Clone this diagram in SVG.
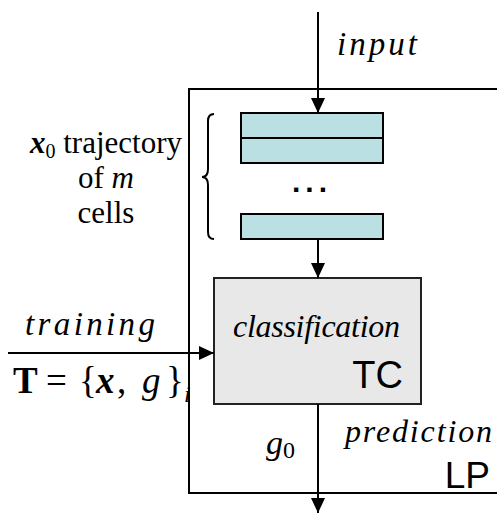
<svg xmlns="http://www.w3.org/2000/svg" width="497" height="513" viewBox="0 0 497 513">
  <style>
    .sans { font-family: "Liberation Sans", Arial, sans-serif; fill: #000; }
    .wire { stroke: #000; stroke-width: 2; fill: none; }
    .cell { fill: #bbe0e3; stroke: #000; stroke-width: 2; }
  </style>
  <defs>
    <marker id="arrow" markerUnits="userSpaceOnUse" markerWidth="16" markerHeight="14" refX="15" refY="7" orient="auto">
      <path d="M0,0 L15,7 L0,14 Z" fill="#000"/>
    </marker>
  </defs>
  <rect width="497" height="513" fill="#fff"/>

  <!-- LP outer block -->
  <g id="lp">
    <rect x="189" y="89" width="320" height="404" fill="none" stroke="#000" stroke-width="2"/>
    <text font-family="Liberation Serif, serif" font-style="italic" x="345" y="442" font-size="32" textLength="147" lengthAdjust="spacing">prediction</text>
    <text class="sans" x="490" y="488" font-size="37" text-anchor="end">LP</text>
  </g>

  <!-- trajectory cells -->
  <g id="cells">
    <rect class="cell" x="241" y="113" width="142" height="50"/>
    <line x1="241" y1="138" x2="383" y2="138" stroke="#000" stroke-width="2"/>
    <text class="sans" x="312" y="192" font-size="30" font-weight="bold" text-anchor="middle" letter-spacing="5">...</text>
    <rect class="cell" x="241" y="214" width="142" height="25"/>
  </g>

  <!-- brace and its label -->
  <g id="trajectory-label" font-family="Liberation Serif, serif" font-size="31" text-anchor="middle">
    <path class="wire" stroke-width="1.5" d="M214,114 Q208,114 208,121 L208,169 Q208,177 202,177 Q208,177 208,185 L208,232 Q208,239 214,239"/>
    <text x="106" y="153"><tspan font-weight="bold" font-style="italic">x</tspan><tspan font-size="20" dy="5">0</tspan><tspan dy="-5"> trajectory</tspan></text>
    <text x="106" y="188">of <tspan font-style="italic">m</tspan></text>
    <text x="106" y="223">cells</text>
  </g>

  <!-- TC classification block -->
  <g id="tc">
    <rect x="214" y="278" width="207" height="126" fill="#e8e8e8" stroke="#222" stroke-width="2"/>
    <text font-family="Liberation Serif, serif" font-style="italic" x="233" y="337" font-size="32" textLength="167" lengthAdjust="spacing">classification</text>
    <text class="sans" x="403" y="388" font-size="38" text-anchor="end">TC</text>
  </g>

  <!-- connectors -->
  <g id="connectors">
    <line class="wire" x1="318" y1="12" x2="318" y2="113" marker-end="url(#arrow)"/>
    <line class="wire" x1="318" y1="239" x2="318" y2="278" marker-end="url(#arrow)"/>
    <line class="wire" x1="318" y1="404" x2="318" y2="513" marker-end="url(#arrow)"/>
    <line class="wire" x1="8" y1="353" x2="214" y2="353" marker-end="url(#arrow)"/>
  </g>

  <!-- connector labels -->
  <g id="labels" font-family="Liberation Serif, serif">
    <text font-style="italic" x="337" y="55" font-size="33" textLength="80" lengthAdjust="spacing">input</text>
    <text font-style="italic" x="25" y="335" font-size="33" textLength="130" lengthAdjust="spacing">training</text>
    <text y="393" font-size="37"><tspan x="13" font-weight="bold">T</tspan><tspan x="46">=</tspan><tspan x="79">{</tspan><tspan x="96" font-weight="bold" font-style="italic">x</tspan><tspan x="117">,</tspan><tspan x="142" font-style="italic">g</tspan><tspan x="166">}</tspan><tspan x="184" dy="9" font-size="24" font-style="italic">i</tspan></text>
    <text x="266" y="454" font-size="34"><tspan font-style="italic">g</tspan><tspan font-size="24" dy="4">0</tspan></text>
  </g>
</svg>
